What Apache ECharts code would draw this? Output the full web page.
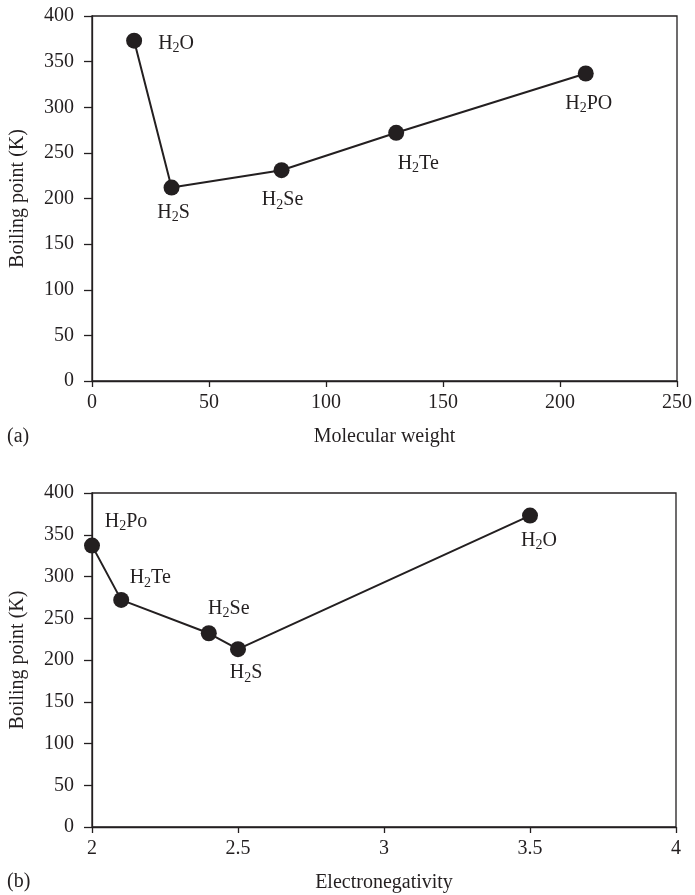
<!DOCTYPE html>
<html>
<head>
<meta charset="utf-8">
<script src="https://cdn.jsdelivr.net/npm/echarts@6/dist/echarts.min.js"></script>
<style>
  html, body { margin: 0; padding: 0; background: #fff; }
  #main { width: 695px; height: 895px; }
</style>
</head>
<body>
<div id="main"></div>
<script>
// panel (a)
const namesA = ['H2O', 'H2S', 'H2Se', 'H2Te', 'H2PO'];
const molWeight = [18, 34, 81, 130, 211];
const boilA = [373, 212, 231, 272, 337];

// panel (b)
const namesB = ['H2Po', 'H2Te', 'H2Se', 'H2S', 'H2O'];
const electroneg = [2.0, 2.1, 2.4, 2.5, 3.5];
const boilB = [337, 272, 232, 213, 373];

// label offsets from the dot centre (px)
const offA = [[42, 3], [2, 25], [1, 30], [22, 31], [3, 30]];
const offB = [[34, -24], [29, -22], [20, -25], [8, 24], [9, 25]];

const FONT = 'Liberation Serif';
const INK = '#231f20';
const FS = 20;

function chem(name) {
  // H2O -> H{sub 2}O
  return name.replace(/([A-Za-z]*)(\d)([A-Za-z]*)/, function (m, a, d, b) {
    return (a ? '{n|' + a + '}' : '') + '{s|' + d + '}' + (b ? '{n|' + b + '}' : '');
  });
}

const richText = {
  n: { fontFamily: FONT, fontSize: FS, color: INK, lineHeight: 22 },
  s: { fontFamily: FONT, fontSize: 14, color: INK, lineHeight: 22, padding: [10, 0, 0, 0] }
};

function points(xs, ys, names, offs) {
  return xs.map(function (x, i) {
    return {
      value: [x, ys[i]],
      name: names[i],
      label: { offset: offs[i] }
    };
  });
}

function yAxis(idx) {
  return {
    gridIndex: idx,
    type: 'value',
    min: 0, max: 400, interval: 50,
    name: 'Boiling point (K)',
    nameLocation: 'middle',
    nameGap: 64,
    nameTextStyle: { fontFamily: FONT, fontSize: FS, color: INK },
    axisLine: { show: true, lineStyle: { color: INK, width: 1.3 } },
    axisTick: { show: true, length: 8, lineStyle: { color: INK, width: 1.3 } },
    axisLabel: { fontFamily: FONT, fontSize: FS, color: INK, margin: 18 },
    splitLine: { show: false }
  };
}

function xAxis(idx, min, max, interval, name) {
  return {
    gridIndex: idx,
    type: 'value',
    min: min, max: max, interval: interval,
    name: name,
    nameLocation: 'middle',
    nameGap: 46,
    nameTextStyle: { fontFamily: FONT, fontSize: FS, color: INK },
    axisLine: { show: true, onZero: false, lineStyle: { color: INK, width: 1.3 } },
    axisTick: { show: true, length: 6, lineStyle: { color: INK, width: 1.3 } },
    axisLabel: { fontFamily: FONT, fontSize: FS, color: INK, margin: 12 },
    splitLine: { show: false }
  };
}

function lineSeries(idx, data) {
  return {
    type: 'line',
    xAxisIndex: idx,
    yAxisIndex: idx,
    data: data,
    symbol: 'circle',
    symbolSize: 16,
    itemStyle: { color: INK },
    lineStyle: { color: INK, width: 2 },
    label: {
      show: true,
      position: 'inside',
      formatter: function (p) { return chem(p.name); },
      rich: richText
    },
    emphasis: { disabled: true },
    animation: false
  };
}

const chart = echarts.init(document.getElementById('main'));

chart.setOption({
  backgroundColor: '#ffffff',
  grid: [
    { left: 92, top: 16, width: 586, height: 365, show: true, borderColor: INK, borderWidth: 1.3 },
    { left: 91, top: 493, width: 585, height: 334, show: true, borderColor: INK, borderWidth: 1.3 }
  ],
  xAxis: [
    xAxis(0, 0, 250, 50, 'Molecular weight'),
    xAxis(1, 2, 4, 0.5, 'Electronegativity')
  ],
  yAxis: [yAxis(0), yAxis(1)],
  series: [
    lineSeries(0, points(molWeight, boilA, namesA, offA)),
    lineSeries(1, points(electroneg, boilB, namesB, offB))
  ],
  graphic: [
    { type: 'text', left: 7, top: 427, style: { text: '(a)', fontFamily: FONT, fontSize: FS, fill: INK } },
    { type: 'text', left: 7, top: 872, style: { text: '(b)', fontFamily: FONT, fontSize: FS, fill: INK } }
  ]
});
</script>
</body>
</html>
